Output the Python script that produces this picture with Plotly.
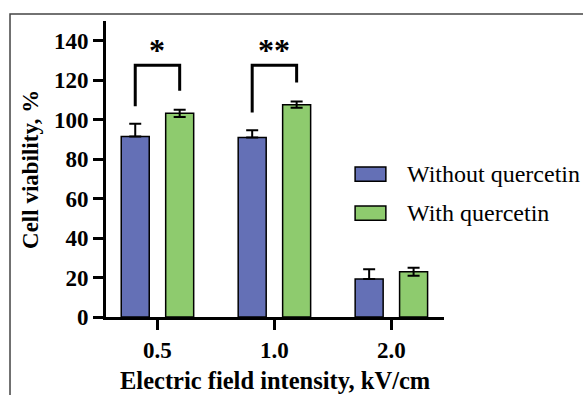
import plotly.graph_objects as go

categories = ["0.5", "1.0", "2.0"]
series_names = ["Without quercetin", "With quercetin"]
without_q = [91.5, 91.0, 19.2]
without_q_err = [6.4, 3.7, 5.0]
with_q = [103.2, 107.6, 22.9]
with_q_err = [1.8, 1.6, 2.0]
y_ticks = [0, 20, 40, 60, 80, 100, 120, 140]

sig_labels = ["*", "**"]
sig_cat_index = [0, 1]
sig_top = [127.6, 127.6]
sig_left_bottom = [106.8, 103.6]
sig_right_bottom = [114.6, 118.8]
sig_label_y = [135.5, 135.5]

BLUE = "#6470B6"
GREEN = "#8ECB6E"
FONT = "Liberation Serif"
BARGAP = 0.24
slot = (1 - BARGAP) / 2
offset = slot / 2

fig = go.Figure()
fig.add_trace(go.Bar(
    x=categories, y=without_q, name=series_names[0],
    marker=dict(color=BLUE, line=dict(color="black", width=1.5)),
    error_y=dict(type="data", array=without_q_err, arrayminus=[0] * 3,
                 color="black", thickness=2, width=6),
    showlegend=False, hoverinfo="skip",
))
fig.add_trace(go.Bar(
    x=categories, y=with_q, name=series_names[1],
    marker=dict(color=GREEN, line=dict(color="black", width=1.5)),
    error_y=dict(type="data", array=with_q_err, symmetric=True,
                 color="black", thickness=2, width=6),
    showlegend=False, hoverinfo="skip",
))

shapes = []
annotations = []
for lab, ci, top, lb, rb, ly in zip(sig_labels, sig_cat_index, sig_top,
                                     sig_left_bottom, sig_right_bottom, sig_label_y):
    xl = ci - offset
    xr = ci + offset
    path = f"M {xl},{lb} L {xl},{top} L {xr},{top} L {xr},{rb}"
    shapes.append(dict(type="path", path=path, xref="x", yref="y",
                       line=dict(color="black", width=3)))
    annotations.append(dict(x=ci, y=ly, xref="x", yref="y", text=lab,
                            showarrow=False, yanchor="middle",
                            font=dict(family=FONT, size=32, color="black", weight="bold")))

# manual legend
legend_colors = [BLUE, GREEN]
legend_y = [0.483, 0.351]
for name, col, ly in zip(series_names, legend_colors, legend_y):
    shapes.append(dict(type="rect", xref="paper", yref="paper",
                       x0=0.737, x1=0.828, y0=ly - 0.024, y1=ly + 0.024,
                       fillcolor=col, line=dict(color="black", width=1.5)))
    annotations.append(dict(x=0.885, y=ly, xref="paper", yref="paper", text=name,
                            showarrow=False, xanchor="left", yanchor="middle",
                            font=dict(family=FONT, size=24, color="black")))

# outer frame
shapes.append(dict(type="rect", xref="paper", yref="paper",
                   x0=-0.284, x1=1.6, y0=-0.6, y1=1.0236,
                   line=dict(color="#444444", width=1.5), fillcolor="rgba(0,0,0,0)",
                   layer="below"))

# y-axis title as annotation
annotations.append(dict(x=-0.225, y=0.5, xref="paper", yref="paper",
                        text="Cell viability, %", textangle=-90, showarrow=False,
                        xanchor="center", yanchor="middle",
                        font=dict(family=FONT, size=23, color="black", weight="bold")))

# x-axis title as annotation
annotations.append(dict(x=0.5, y=-0.216, xref="paper", yref="paper",
                        text="Electric field intensity, kV/cm", showarrow=False,
                        xanchor="center", yanchor="middle",
                        font=dict(family=FONT, size=24.5, color="black", weight="bold")))

fig.update_layout(
    width=583, height=395,
    margin=dict(l=106, r=139, t=21, b=78),
    paper_bgcolor="white", plot_bgcolor="white",
    barmode="group", bargap=BARGAP, bargroupgap=0.37,
    shapes=shapes, annotations=annotations,
    font=dict(family=FONT, color="black"),
)
fig.update_xaxes(
    type="category", range=[-0.44, 2.45], automargin=False,
    showline=True, linecolor="black", linewidth=3,
    ticks="outside", ticklen=10, tickwidth=3, tickcolor="black",
    tickfont=dict(family=FONT, size=23, color="black", weight="bold"),
    showgrid=False, zeroline=False,
)
fig.update_yaxes(
    range=[0, 150], tickvals=y_ticks, automargin=False,
    showline=True, linecolor="black", linewidth=3,
    ticks="outside", ticklen=10, tickwidth=3, tickcolor="black",
    tickfont=dict(family=FONT, size=23, color="black", weight="bold"),
    showgrid=False, zeroline=False,
)

fig.write_html("out.html", config={"displayModeBar": False},
               post_script="document.body.style.margin='0';document.body.style.overflow='hidden';")
